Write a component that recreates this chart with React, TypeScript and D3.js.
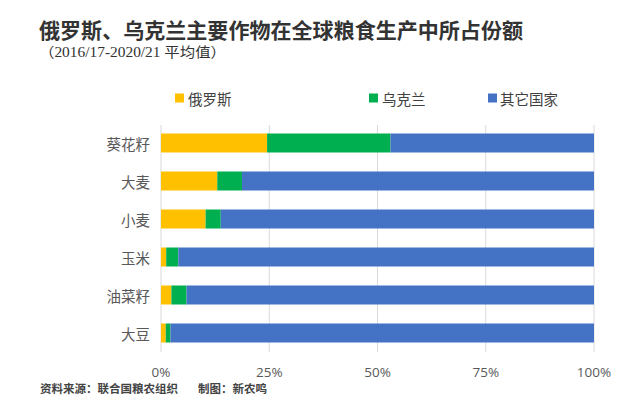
import { useEffect, useRef } from 'react';
import * as d3 from 'd3';

const crops = ['葵花籽', '大麦', '小麦', '玉米', '油菜籽', '大豆'];
const russia = [24.5, 13.0, 10.3, 1.2, 2.4, 1.1];
const ukraine = [28.5, 5.7, 3.5, 2.8, 3.5, 1.1];
const seriesNames = ['俄罗斯', '乌克兰', '其它国家'];
const ticks = [0, 25, 50, 75, 100];

const colors = ['#ffc000', '#00b050', '#4472c4'];

export default function App() {
  const ref = useRef<SVGSVGElement>(null);

  useEffect(() => {
    const svg = d3.select(ref.current);
    svg.selectAll('*').remove();

    const rows = crops.map((crop, i) => ({
      crop,
      r: russia[i],
      u: ukraine[i],
      o: 100 - russia[i] - ukraine[i],
    }));

    const x = d3.scaleLinear().domain([0, 100]).range([161, 594]);
    const y = d3.scaleBand().domain(crops).range([124, 352]).paddingInner(0.5).paddingOuter(0.25);

    const stack = d3.stack<any>().keys(['r', 'u', 'o']);
    const layers = stack(rows);

    const font = '"Noto Sans CJK SC", "Noto Sans", sans-serif';

    // title
    svg.append('text').attr('x', 39).attr('y', 37.5)
      .text('俄罗斯、乌克兰主要作物在全球粮食生产中所占份额')
      .attr('textLength', 484).attr('lengthAdjust', 'spacingAndGlyphs')
      .style('font-family', font).style('font-size', '21px').style('font-weight', 'bold')
      .attr('fill', '#333');
    svg.append('text').attr('x', 39).attr('y', 56.5)
      .text('（2016/17-2020/21 平均值）')
      .attr('textLength', 187).attr('lengthAdjust', 'spacingAndGlyphs')
      .style('font-family', '"Liberation Serif", "Noto Sans CJK SC", serif').style('font-size', '14px')
      .attr('fill', '#333');

    // grid
    svg.append('g').selectAll('line').data(ticks).join('line')
      .attr('x1', (d) => x(d)).attr('x2', (d) => x(d))
      .attr('y1', 125).attr('y2', 352)
      .attr('stroke', '#d9d9d9').attr('stroke-width', 1);

    // bars
    svg.append('g').selectAll('g').data(layers).join('g')
      .attr('fill', (_d, i) => colors[i])
      .selectAll('rect').data((d) => d).join('rect')
      .attr('x', (d) => x(d[0]))
      .attr('width', (d) => x(d[1]) - x(d[0]))
      .attr('y', (d) => y(d.data.crop)!)
      .attr('height', y.bandwidth());

    // category labels
    svg.append('g').selectAll('text').data(crops).join('text')
      .attr('x', 150).attr('y', (d) => y(d)! + y.bandwidth() / 2)
      .attr('text-anchor', 'end').attr('dominant-baseline', 'central')
      .text((d) => d)
      .style('font-family', font).style('font-size', '14.5px').attr('fill', '#595959');

    // x tick labels
    svg.append('g').selectAll('text').data(ticks).join('text')
      .attr('x', (d) => x(d)).attr('y', 372)
      .attr('text-anchor', 'middle').attr('dominant-baseline', 'central')
      .text((d) => `${d}%`)
      .style('font-family', '"Open Sans", sans-serif').style('font-size', '13.5px').attr('fill', '#595959');

    // legend
    const legendX = [175, 369, 488];
    seriesNames.forEach((name, i) => {
      const g = svg.append('g').attr('transform', `translate(${legendX[i]}, 98)`);
      g.append('rect').attr('x', 0).attr('y', -4.5).attr('width', 9).attr('height', 9).attr('fill', colors[i]);
      g.append('text').attr('x', i === 2 ? 12 : 13).attr('y', 0).attr('dominant-baseline', 'central')
        .text(name)
        .style('font-family', font).style('font-size', '14.5px').attr('fill', '#404040');
    });

    // footer
    const footerStyle = (t: any) => t
      .style('font-family', '"Noto Sans CJK SC", serif').style('font-size', '11.5px').style('font-weight', 'bold')
      .attr('fill', '#444');
    svg.append('text').attr('x', 40).attr('y', 393).text('资料来源：联合国粮农组织').call(footerStyle);
    svg.append('text').attr('x', 198).attr('y', 393).text('制图：新农鸣').call(footerStyle);
  }, []);

  return (
    <svg
      ref={ref}
      width={640}
      height={410}
      style={{ position: 'absolute', left: 0, top: 0, background: '#fff' }}
    />
  );
}
